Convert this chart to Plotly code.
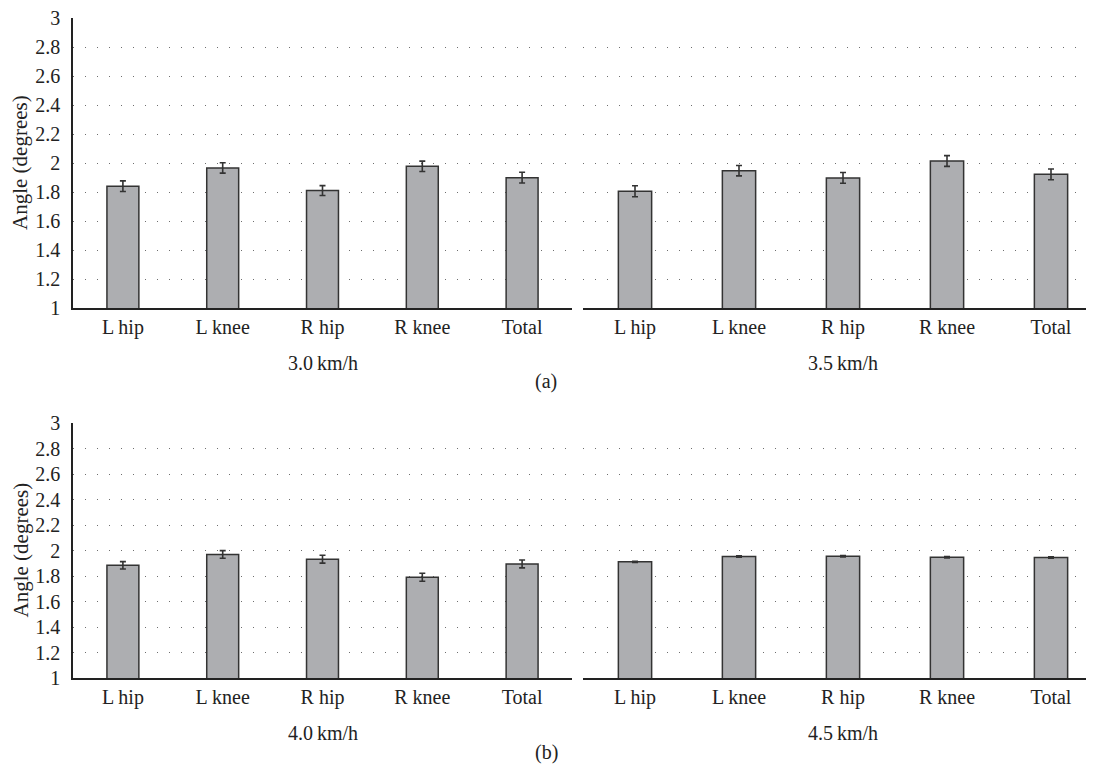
import plotly.graph_objects as go

categories = ["L hip", "L knee", "R hip", "R knee", "Total"]

speed_titles = ["3.0\u2009km/h", "3.5\u2009km/h", "4.0\u2009km/h", "4.5\u2009km/h"]

v30 = [1.84, 1.966, 1.81, 1.977, 1.899]
e30 = [0.037, 0.036, 0.034, 0.036, 0.037]

v35 = [1.805, 1.947, 1.897, 2.014, 1.922]
e35 = [0.038, 0.036, 0.037, 0.037, 0.037]

v40 = [1.884, 1.969, 1.932, 1.79, 1.895]
e40 = [0.029, 0.030, 0.031, 0.031, 0.031]

v45 = [1.911, 1.953, 1.955, 1.947, 1.945]
e45 = [0.005, 0.005, 0.006, 0.006, 0.006]

y_ticks = [1, 1.2, 1.4, 1.6, 1.8, 2, 2.2, 2.4, 2.6, 2.8, 3]
panel_labels = ["(a)", "(b)"]
y_title = "Angle (degrees)"

# page body has an 8px margin; size the figure so the page fits the window
OFF = 8
W, H = 1094 - 2 * OFF, 780 - 2 * OFF
FONT = "Liberation Serif"
FS = 20
TXT = "#222222"

def px_x(p):
    return (p - OFF) / W

def px_y(p):
    return 1 - (p - OFF) / H

fig = go.Figure()

series = [(v30, e30), (v35, e35), (v40, e40), (v45, e45)]
for i, (vals, errs) in enumerate(series):
    n = "" if i == 0 else str(i + 1)
    fig.add_trace(go.Bar(
        x=categories, y=vals, width=0.32,
        xaxis="x" + n, yaxis="y" + n,
        marker=dict(color="#adaeb1", line=dict(color="#333333", width=1.5)),
        error_y=dict(type="data", array=errs, visible=True,
                     color="#333333", thickness=1.6, width=3),
        showlegend=False,
    ))

# right-hand panels run past the window edge (cropped), left ones end at 572
left_px = (73, 572)
right_px = (583, W + OFF)
left_unit = (left_px[1] - left_px[0]) / 5.0
right_unit = 104.0

x_left = [px_x(left_px[0]), px_x(left_px[1])]
x_right = [px_x(right_px[0]), 1.0]
range_left = [-0.5, 4.5]
range_right = [-0.5, -0.5 + (right_px[1] - right_px[0]) / right_unit]

y_top = [px_y(308), px_y(18)]
y_bot = [px_y(678), px_y(423)]

domains = [(x_left, y_top, range_left), (x_right, y_top, range_right),
           (x_left, y_bot, range_left), (x_right, y_bot, range_right)]

layout = dict(
    template="none",
    width=W, height=H, autosize=False,
    margin=dict(l=0, r=0, t=0, b=0, pad=0, autoexpand=False),
    paper_bgcolor="white", plot_bgcolor="white",
    font=dict(family=FONT, size=FS, color=TXT),
    annotations=[],
)

for i, (xd, yd, xr) in enumerate(domains):
    n = "" if i == 0 else str(i + 1)
    is_left = i in (0, 2)
    layout["xaxis" + n] = dict(
        domain=xd, anchor="y" + n, type="category", automargin=False,
        range=xr,
        showline=True, linecolor="#222222", linewidth=1.5,
        showgrid=False, zeroline=False,
        ticks="",
        tickfont=dict(family=FONT, size=FS, color=TXT),
    )
    layout["yaxis" + n] = dict(
        domain=yd, anchor="x" + n, range=[1, 3], automargin=False,
        tickvals=y_ticks, ticktext=[f"{t:g}" for t in y_ticks],
        showticklabels=is_left, ticklabeloverflow="allow",
        showline=is_left, linecolor="#222222", linewidth=1.5,
        showgrid=True, gridcolor="#6e6e6e", gridwidth=1.4,
        griddash="1.4px,10.6px",
        zeroline=False,
        ticks="outside" if is_left else "", ticklen=7,
        tickcolor="rgba(0,0,0,0)",
        tickfont=dict(family=FONT, size=FS, color=TXT),
    )
    ybase = 363 if i < 2 else 733
    layout["annotations"].append(dict(
        x=2, y=px_y(ybase), xref="x" + n, yref="paper",
        text=speed_titles[i], showarrow=False,
        font=dict(family=FONT, size=FS, color=TXT),
        xanchor="center", yanchor="middle",
    ))

for yc in [(18 + 308) / 2, (423 + 678) / 2]:
    layout["annotations"].append(dict(
        x=px_x(20), y=px_y(yc), xref="paper", yref="paper",
        text=y_title, showarrow=False, textangle=-90,
        font=dict(family=FONT, size=21, color=TXT),
        xanchor="center", yanchor="middle",
    ))

for lab, yp in zip(panel_labels, [381, 752]):
    layout["annotations"].append(dict(
        x=px_x(546), y=px_y(yp), xref="paper", yref="paper",
        text=lab, showarrow=False,
        font=dict(family=FONT, size=FS, color=TXT),
        xanchor="center", yanchor="middle",
    ))

fig.update_layout(**layout)
fig.write_html("out.html")
